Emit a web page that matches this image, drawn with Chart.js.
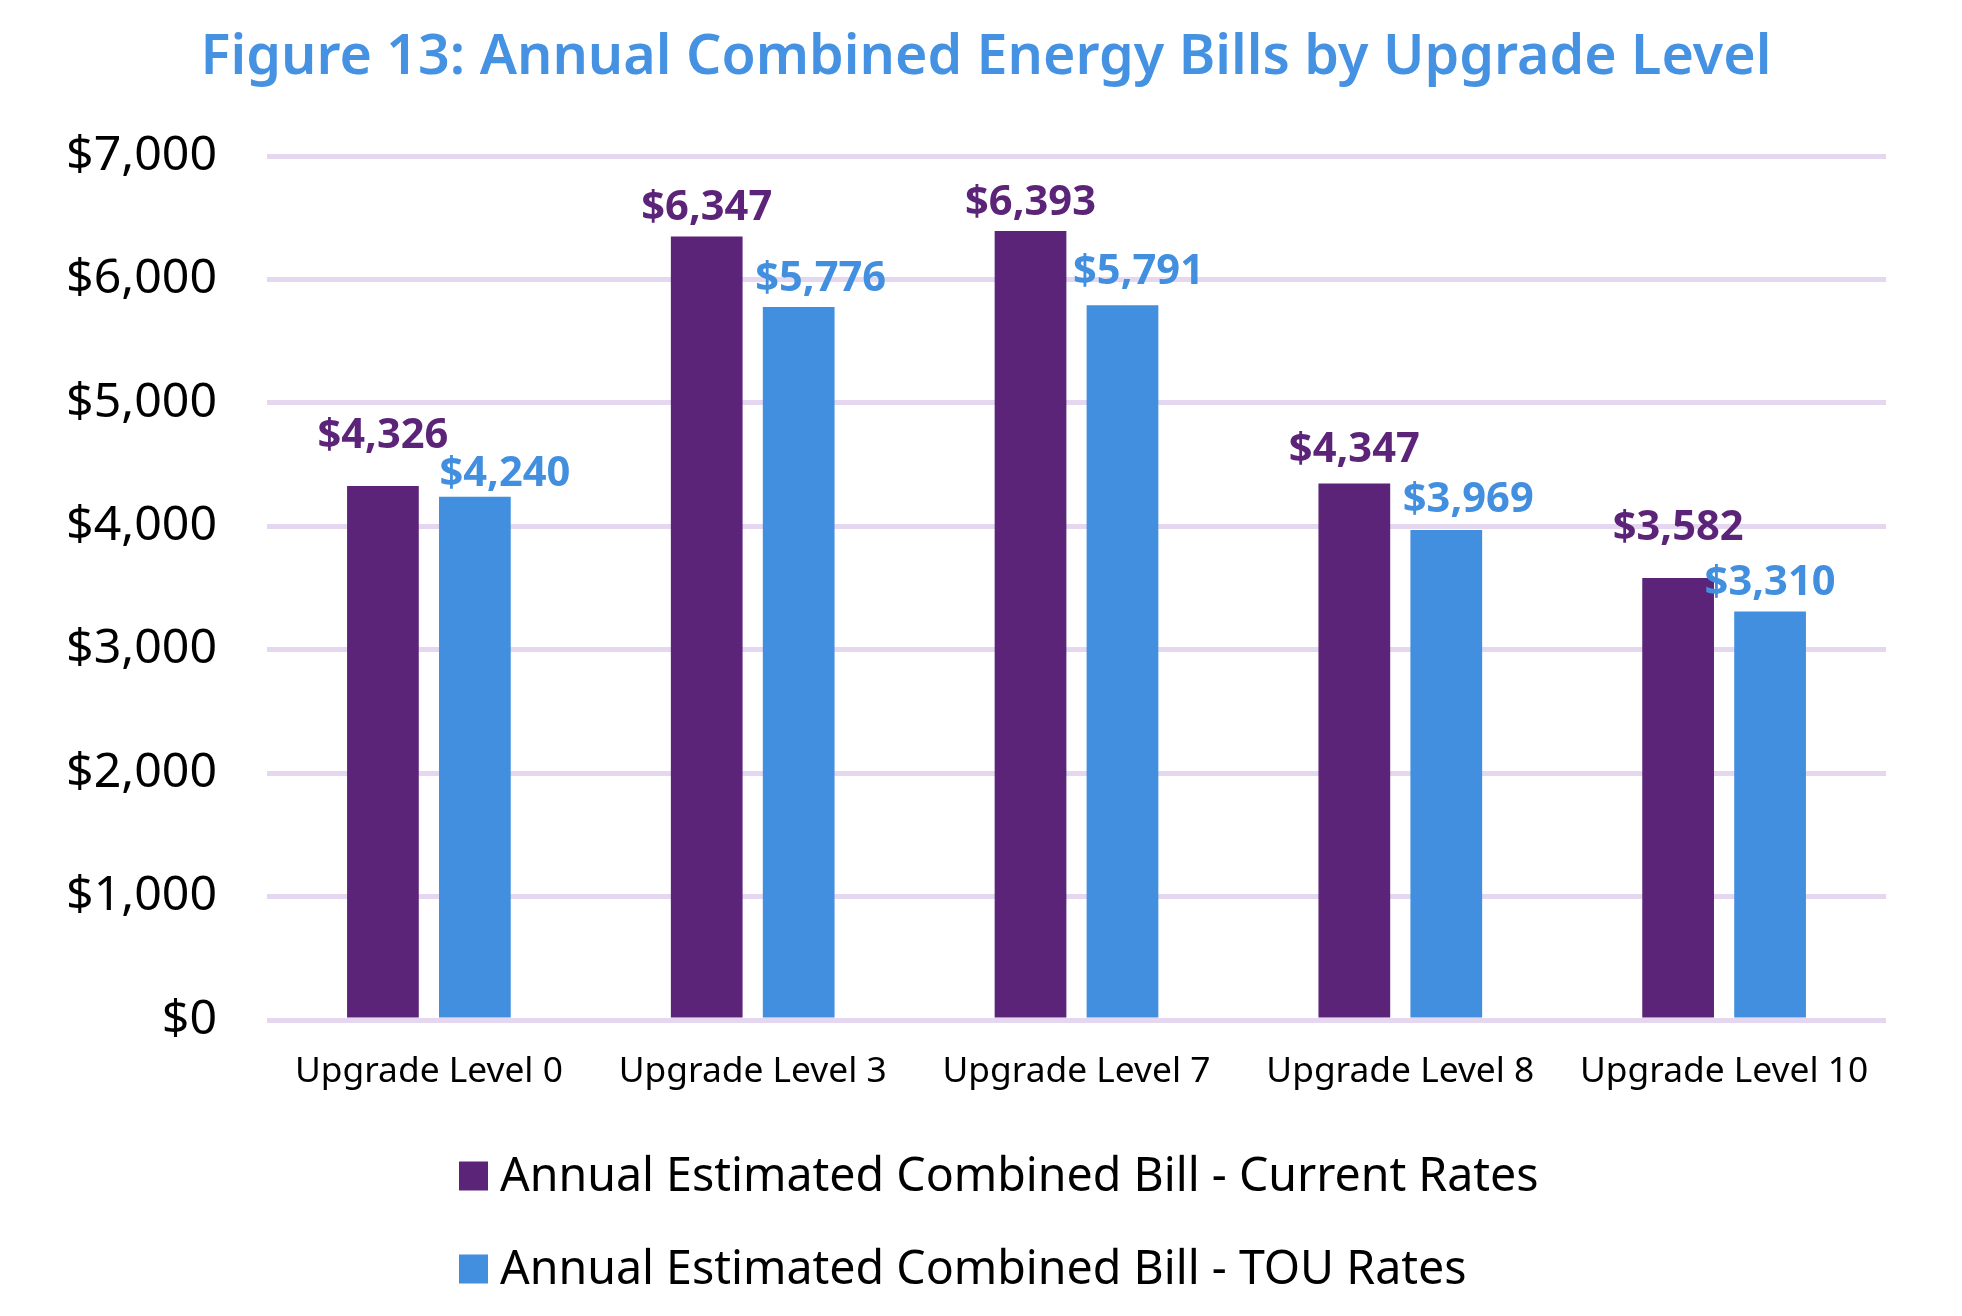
<!DOCTYPE html>
<html><head><meta charset="utf-8">
<script src="https://cdn.jsdelivr.net/npm/chart.js@4"></script>
<style>html,body{margin:0;padding:0;background:#fff;overflow:hidden}canvas{display:block}</style>
</head><body>
<canvas id="c" width="1962" height="1316"></canvas>
<script>
// ---- data ----
const categories = ['Upgrade Level 0','Upgrade Level 3','Upgrade Level 7','Upgrade Level 8','Upgrade Level 10'];
const currentRates = [4326, 6347, 6393, 4347, 3582];
const touRates = [4240, 5776, 5791, 3969, 3310];
const seriesNames = ['Annual Estimated Combined Bill - Current Rates', 'Annual Estimated Combined Bill - TOU Rates'];
const yTickValues = [0, 1000, 2000, 3000, 4000, 5000, 6000, 7000];
const titleText = 'Figure 13: Annual Combined Energy Bills by Upgrade Level';

// ---- style ----
const PURPLE = '#5C2479';
const BLUE = '#418FDE';
const TITLE_BLUE = '#4592E3';
const GRID = '#E6D7F1';
const FAMILY = "'Noto Sans', sans-serif";
// label nudges relative to each bar top (dx right, dy = distance of text centre above bar top)
const labelNudge = [
  { dx: [0, 0, 0, 0, 0],     dy: [53, 31, 31, 36, 53] },
  { dx: [30, 22, 16, 22, 0], dy: [26, 31, 36, 33, 31] }
];

const mctx = document.createElement('canvas').getContext('2d');
function fitSize(text, weight, target) {
  mctx.font = weight + ' 100px ' + FAMILY;
  return 100 * target / mctx.measureText(text).width;
}
const fmt = v => '$' + Number(v).toLocaleString('en-US');

const titleSize = fitSize(titleText, 600, 1571);
const yTickSize = fitSize('$7,000', 400, 151);
const xTickSize = fitSize('Upgrade Level 0', 400, 268);
const legendSize = fitSize(seriesNames[0], 400, 1039);
const dataSize = fitSize('$4,326', 700, 131);
const CAP = 0.357; // half cap-height ratio for Noto Sans

const titlePlugin = {
  id: 'titleDraw',
  afterDraw(chart) {
    const c = chart.ctx;
    c.save();
    c.font = '600 ' + titleSize + 'px ' + FAMILY;
    c.fillStyle = TITLE_BLUE;
    c.textAlign = 'center';
    c.textBaseline = 'alphabetic';
    c.fillText(titleText, 986, 54.5 + CAP * 2 * titleSize / 2 * 1);
    c.restore();
  }
};

const legendPlugin = {
  id: 'legendDraw',
  afterDraw(chart) {
    const c = chart.ctx;
    const rows = [1174, 1267];
    c.save();
    c.font = '400 ' + legendSize + 'px ' + FAMILY;
    c.textAlign = 'left';
    c.textBaseline = 'alphabetic';
    chart.data.datasets.forEach((ds, i) => {
      const cy = rows[i];
      c.fillStyle = ds.backgroundColor;
      c.fillRect(459, cy + 2 - 14.5, 29, 29);
      c.fillStyle = '#000';
      c.fillText(ds.label, 500, cy + CAP * legendSize);
    });
    c.restore();
  }
};

const labelPlugin = {
  id: 'barLabels',
  afterDatasetsDraw(chart) {
    const c = chart.ctx;
    c.save();
    c.font = '700 ' + dataSize + 'px ' + FAMILY;
    c.textAlign = 'center';
    c.textBaseline = 'alphabetic';
    chart.data.datasets.forEach((ds, di) => {
      const meta = chart.getDatasetMeta(di);
      c.fillStyle = ds.backgroundColor;
      meta.data.forEach((bar, i) => {
        const n = labelNudge[di];
        const cx = bar.x + n.dx[i];
        const cy = bar.y - n.dy[i];
        c.fillText(fmt(ds.data[i]), cx, cy + CAP * dataSize);
      });
    });
    c.restore();
  }
};

new Chart(document.getElementById('c'), {
  type: 'bar',
  data: {
    labels: categories,
    datasets: [
      { label: seriesNames[0], data: currentRates, backgroundColor: PURPLE, categoryPercentage: 0.568, barPercentage: 0.78 },
      { label: seriesNames[1], data: touRates, backgroundColor: BLUE, categoryPercentage: 0.568, barPercentage: 0.78 }
    ]
  },
  options: {
    responsive: false,
    animation: false,
    devicePixelRatio: 1,
    layout: { padding: { top: 156, right: 76, bottom: 0, left: 0 } },
    plugins: { legend: { display: false }, title: { display: false }, tooltip: { enabled: false } },
    scales: {
      x: {
        grid: { display: false, drawTicks: false },
        border: { display: false },
        ticks: { color: '#000', font: { family: FAMILY, size: xTickSize, lineHeight: 1.2 }, padding: 52 - 0.6 * xTickSize, maxRotation: 0, autoSkip: false },
        afterFit(s) { s.height = 296; }
      },
      y: {
        min: 0, max: 7000,
        afterBuildTicks(s) { s.ticks = yTickValues.map(v => ({ value: v })); },
        ticks: { color: '#000', font: { family: FAMILY, size: yTickSize }, padding: 50, callback: v => fmt(v) },
        grid: { color: GRID, lineWidth: 5, drawTicks: false },
        border: { display: false },
        afterFit(s) { s.width = 267; }
      }
    }
  },
  plugins: [labelPlugin, titlePlugin, legendPlugin]
});
</script>
</body></html>
